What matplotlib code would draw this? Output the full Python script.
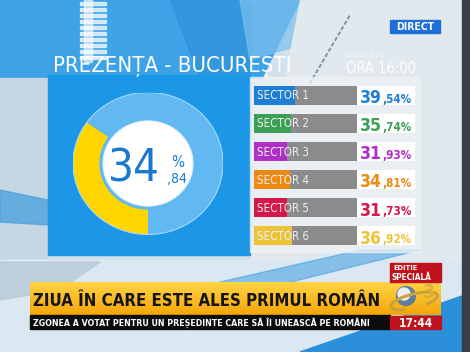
import numpy as np
import matplotlib
matplotlib.use('Agg')
import matplotlib.pyplot as plt
import matplotlib.font_manager as fm
from matplotlib.patches import Rectangle, Polygon, Ellipse, Arc
from matplotlib.colors import LinearSegmentedColormap

# data
title = 'PREZENȚA - BUCUREȘTI'
total_turnout = 34.84
sectors = ['SECTOR 1', 'SECTOR 2', 'SECTOR 3', 'SECTOR 4', 'SECTOR 5', 'SECTOR 6']
turnout = [39.54, 35.74, 31.93, 34.81, 31.73, 36.92]
sector_colors = ['#1e7fd6', '#3b9f55', '#b02fc6', '#ee8a12', '#d5174b', '#edc33a']
headline = 'ZIUA ÎN CARE ESTE ALES PRIMUL ROMÂN'
subline = 'ZGONEA A VOTAT PENTRU UN PREȘEDINTE CARE SĂ ÎI UNEASCĂ PE ROMÂNI'

# pick the narrowest font we have
entries = fm.fontManager.ttflist
if any(f.name == 'DejaVu Sans' and 'condensed' in str(f.stretch) for f in entries):
    NAR = dict(family=['DejaVu Sans'], fontstretch='condensed')
else:
    NAR = dict(family=['Roboto', 'DejaVu Sans'])

W, H = 470, 352
fig = plt.figure(figsize=(W / 100, H / 100), dpi=100)
renderer = fig.canvas.get_renderer()


def fit(t, width):
    # scale the font so the text is `width` pixels wide
    bb = t.get_window_extent(renderer)
    t.set_fontsize(t.get_fontsize() * width / bb.width)
    return t.get_fontsize()


# background in pixel coordinates
bg = fig.add_axes([0, 0, 1, 1])
bg.set_xlim(0, W)
bg.set_ylim(H, 0)
bg.axis('off')
bg.add_patch(Rectangle((0, 0), W, H, color='#d3e1ec', zorder=0))
bg.add_patch(Polygon([(0, 0), (300, 0), (262, 78), (0, 78)], color='#3ea3e6', zorder=1))
bg.add_patch(Polygon([(170, 0), (250, 0), (250, 78), (200, 78)], color='#2a8fd8', alpha=0.6, zorder=1))
bg.add_patch(Polygon([(240, 0), (330, 0), (300, 45), (250, 60)], color='#7cc0ee', alpha=0.7, zorder=1))
for yy in range(2, 62, 6):
    bg.add_patch(Rectangle((80, yy), 26, 3, color='white', alpha=0.7, zorder=1))
bg.add_patch(Rectangle((84, 0), 8, 62, color='white', alpha=0.6, zorder=1))
bg.add_patch(Polygon([(300, 0), (462, 0), (462, 260), (250, 260)], color='#e1e9ef', zorder=1))
bg.plot([300, 350], [100, 15], color='#8a98a4', lw=1.5, ls=(0, (2, 1)), zorder=1)
bg.add_patch(Rectangle((0, 78), 48, 180, color='#c6d7e4', zorder=1))
bg.add_patch(Polygon([(0, 190), (48, 200), (48, 225), (0, 222)], color='#4ea2dc', alpha=0.8, zorder=1))
bg.add_patch(Polygon([(0, 260), (462, 260), (462, 352), (0, 352)], color='#dbe7f1', zorder=1))
bg.add_patch(Polygon([(120, 305), (360, 250), (420, 250), (170, 312)], color='#3d9ee0', alpha=0.55, zorder=1))
bg.add_patch(Polygon([(0, 262), (100, 262), (60, 290), (0, 300)], color='#b7cad8', alpha=0.8, zorder=1))
bg.add_patch(Polygon([(300, 352), (462, 296), (462, 352)], color='#2b8fd9', zorder=1))
bg.add_patch(Rectangle((462, 0), 8, H, color='#3a3f46', zorder=5))

# left blue panel and right sector panel
bg.add_patch(Rectangle((48, 75), 202, 180, color='#1c97e8', zorder=2))
bg.add_patch(Rectangle((250, 77), 170, 175, color='#eef2f5', alpha=0.75, zorder=2))

t = bg.text(53, 72, title, **NAR, fontsize=17, color='white', va='baseline', zorder=3)
fit(t, 238)
t = bg.text(348, 57, 'SURSA: B.E.C.', **NAR, fontsize=5, color='white', alpha=0.75, va='baseline', zorder=3)
fit(t, 38)
t = bg.text(346, 73, 'ORA 16:00', **NAR, fontsize=11.5, color='white', alpha=0.9, va='baseline', zorder=3)
fit(t, 70)

bg.add_patch(Rectangle((390, 20), 50, 13, color='#1f6fd6', zorder=3))
t = bg.text(415, 30.5, 'DIRECT', **NAR, fontsize=7, weight='bold', color='white', ha='center', va='baseline', zorder=4)
fit(t, 38)

# lower third
orange = LinearSegmentedColormap.from_list('o', ['#ffd445', '#f5a50a'])
grad = np.linspace(0, 1, 50).reshape(-1, 1)
bg.imshow(grad, cmap=orange, extent=(30, 441, 315, 282), aspect='auto', zorder=3)
t = bg.text(33, 306, headline, **NAR, fontsize=16, weight='bold', color='#151515', va='baseline', zorder=4)
fit(t, 349)
bg.add_patch(Rectangle((30, 315), 360, 14, color='#0c0c0c', zorder=3))
t = bg.text(33, 326, subline, **NAR, fontsize=7, weight='bold', color='white', va='baseline', zorder=4)
fit(t, 336)
bg.add_patch(Rectangle((390, 263), 51, 19, color='#c0121d', zorder=3))
t = bg.text(393, 270.5, 'EDITIE', **NAR, fontsize=5.5, weight='bold', color='white', va='baseline', zorder=4)
fit(t, 24)
t = bg.text(392, 279.5, 'SPECIALĂ', **NAR, fontsize=5.5, weight='bold', color='white', va='baseline', zorder=4)
fit(t, 40)
bg.add_patch(Rectangle((390, 316), 51, 13, color='#c0121d', zorder=3))
t = bg.text(415.5, 327, '17:44', **NAR, fontsize=9, weight='bold', color='white', ha='center', va='baseline', zorder=4)
fit(t, 34)
bg.add_patch(Arc((414, 301), 48, 14, angle=-14, theta1=150, theta2=390, ec='#c9a23a', lw=2.2, zorder=6))
bg.add_patch(Ellipse((406, 296), 19, 19, color='#5f7f99', zorder=5))
bg.add_patch(Ellipse((404, 294), 12, 12, color='#e8eef3', zorder=5))
bg.text(429, 298, '3', **NAR, fontsize=14, weight='bold', color='#d9b13a', ha='center', va='baseline', zorder=6)

# donut with total turnout
ax_d = fig.add_axes([73 / W, 1 - 234.5 / H, 150 / W, 142 / H])
ax_d.pie([total_turnout, 100 - total_turnout], colors=['#ffd600', '#62b9f2'],
         startangle=-90, counterclock=False, radius=1,
         wedgeprops=dict(width=0.36, edgecolor='none'))
ax_d.add_patch(Ellipse((0, 0), 2.0, 2.0, fill=False, ec='#a9d8f8', lw=0.8))
ax_d.add_patch(Ellipse((0, 0), 1.28, 1.28, color='#62b9f2'))
ax_d.add_patch(Ellipse((0, 0), 1.2, 1.2, color='white', ec='#dff0fc', lw=0.8))
ax_d.set_aspect('auto')
ax_d.set_xlim(-1, 1)
ax_d.set_ylim(-1, 1)
ax_d.axis('off')
whole, frac = f'{total_turnout:.2f}'.split('.')
# pixel -> data: x = (px - 148) / 75, y = (163.5 - py) / 71
t = ax_d.text(-0.533, -0.26, whole, **NAR, fontsize=40, color='#1b78cf', ha='left', va='baseline')
fit(t, 52)
t = ax_d.text(0.31, -0.05, '%', **NAR, fontsize=14, color='#1b78cf', va='baseline')
fit(t, 13)
t = ax_d.text(0.25, -0.275, ',' + frac, **NAR, fontsize=14, color='#1b78cf', va='baseline')
fit(t, 20)

# sector bars
ax_b = fig.add_axes([254 / W, 1 - 250 / H, 161 / W, 169 / H])
ax_b.patch.set_alpha(0)
y = np.arange(len(sectors))
full = 100 * 161 / 103
ax_b.barh(y, [full - 100] * len(y), left=100, height=0.67, color='white')
ax_b.barh(y, [100] * len(y), height=0.67, color='#8b8b8b')
ax_b.barh(y, turnout, height=0.67, color=sector_colors)
ax_b.set_xlim(0, full)
ax_b.set_ylim(len(sectors) - 0.5, -0.5)
ax_b.axis('off')

lab_size = None
big_size = None
small_size = None
for i, (name, v, c) in enumerate(zip(sectors, turnout, sector_colors)):
    t = ax_b.text(3, i + 0.15, name, **NAR, fontsize=9, color='#eeeeee', va='baseline')
    if lab_size is None:
        lab_size = fit(t, 52)
    t.set_fontsize(lab_size)
    w_, f_ = f'{v:.2f}'.split('.')
    t = ax_b.text(103, i + 0.28, w_, **NAR, fontsize=16, weight='bold', color=c, va='baseline')
    if big_size is None:
        big_size = fit(t, 22)
    t.set_fontsize(big_size)
    a = ax_b.annotate(',' + f_ + '%', xy=(1, 0), xycoords=t, xytext=(0.5, 1.0), textcoords='offset points',
                      **NAR, fontsize=10, weight='bold', color=c, va='bottom')
    if small_size is None:
        small_size = fit(a, 29)
    a.set_fontsize(small_size)

fig.savefig('out.png', dpi=100)
